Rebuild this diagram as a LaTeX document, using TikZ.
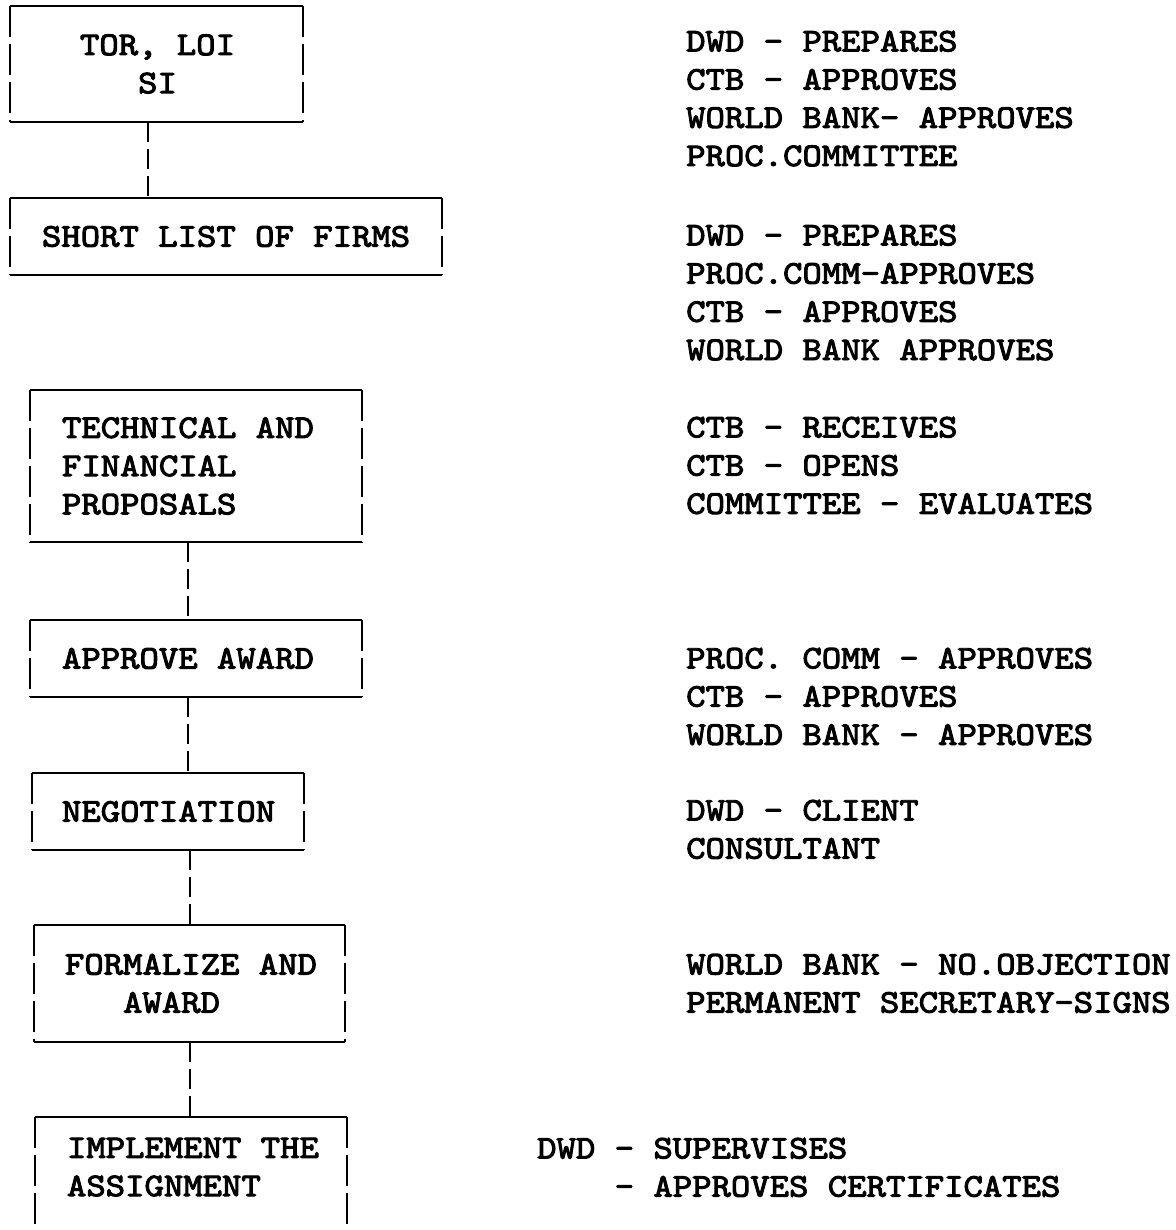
\documentclass[tikz,border=0pt]{standalone}
\usepackage{fontspec}
\newfontfamily\twfont{lmmono10-regular}[Extension=.otf, FakeStretch=1.1186, FakeBold=3]
\newcommand\lnstrut{\rule[-9pt]{0pt}{38.2pt}}
\newcommand\col[1]{\hspace*{#1pt}}
\tikzset{
  every node/.style={font=\twfont\fontsize{33}{38.2}\selectfont},
  box/.style={inner xsep=0pt, inner ysep=0pt, align=flush left},
  hside/.style={line width=2.4pt},
  vside/.style={line width=2.4pt, dash pattern=on 31pt off 7pt},
  conn/.style={line width=2.6pt, dash pattern=on 20pt off 7pt},
  txt/.style={anchor=north west, inner sep=0pt, align=left},
}
\newcommand\frameit[1]{%
  \draw[hside] (#1.north west) -- (#1.north east) (#1.south west) -- (#1.south east);
  \draw[vside] (#1.north west) -- (#1.south west) (#1.north east) -- (#1.south east);}
\begin{document}
\begin{tikzpicture}[x=1pt,y=-1pt]
\useasboundingbox (0,0) rectangle (1175,1230);
\clip (0,0) rectangle (1175,1230);
\fill[white] (0,0) rectangle (1175,1230);

% boxes
\node[box, minimum width=293pt, minimum height=116pt, text width=293pt] (b1) at (156.5,64)
  {\noindent\col{70}TOR, LOI\lnstrut\\\col{128.1}SI\lnstrut};
\node[box, minimum width=432pt, minimum height=77pt, text width=432pt] (b2) at (226,236.5)
  {\noindent\col{32}SHORT LIST OF FIRMS\lnstrut};
\node[box, minimum width=332pt, minimum height=152pt, text width=332pt] (b3) at (196,466)
  {\noindent\col{32}TECHNICAL AND\lnstrut\\\col{32}FINANCIAL\lnstrut\\\col{32}PROPOSALS\lnstrut};
\node[box, minimum width=332pt, minimum height=77pt, text width=332pt] (b4) at (196,658.5)
  {\noindent\col{32}APPROVE AWARD\lnstrut};
\node[box, minimum width=272pt, minimum height=77pt, text width=272pt] (b5) at (168,811.5)
  {\noindent\col{30}NEGOTIATION\lnstrut};
\node[box, minimum width=311pt, minimum height=117pt, text width=311pt] (b6) at (189.5,983.5)
  {\noindent\col{31}FORMALIZE AND\lnstrut\\\col{89.1}AWARD\lnstrut};
\node[box, minimum width=312pt, minimum height=138pt, text width=312pt] (b7) at (191,1186)
  {\noindent\col{32}IMPLEMENT THE\lnstrut\\\col{32}ASSIGNMENT\lnstrut\\\lnstrut};

\frameit{b1}\frameit{b2}\frameit{b3}\frameit{b4}\frameit{b5}\frameit{b6}\frameit{b7}

% connectors
\draw[conn] (b1.south -| 148,0) -- (b2.north -| 148,0);
\draw[conn] (b3.south -| 188,0) -- (b4.north -| 188,0);
\draw[conn] (b4.south -| 188,0) -- (b5.north -| 188,0);
\draw[conn] (b5.south -| 190,0) -- (b6.north -| 190,0);
\draw[conn] (b6.south -| 190,0) -- (b7.north -| 190,0);

% right-hand texts
\node[txt] (t1) at (686,22) {DWD - PREPARES\lnstrut\\CTB - APPROVES\lnstrut\\WORLD BANK- APPROVES\lnstrut\\PROC.COMMITTEE\lnstrut};
\node[txt] (t2) at (686,216) {DWD - PREPARES\lnstrut\\PROC.COMM-APPROVES\lnstrut\\CTB - APPROVES\lnstrut\\WORLD BANK APPROVES\lnstrut};
\node[txt] (t3) at (686,408) {CTB - RECEIVES\lnstrut\\CTB - OPENS\lnstrut\\COMMITTEE - EVALUATES\lnstrut};
\node[txt] (t4) at (686,639) {PROC. COMM - APPROVES\lnstrut\\CTB - APPROVES\lnstrut\\WORLD BANK - APPROVES\lnstrut};
\node[txt] (t5) at (686,791) {DWD - CLIENT\lnstrut\\CONSULTANT\lnstrut};
\node[txt] (t6) at (686,945) {WORLD BANK - NO.OBJECTION\lnstrut\\PERMANENT SECRETARY-SIGNS\lnstrut};
\node[txt] (t7) at (537,1129) {DWD - SUPERVISES\lnstrut\\\col{77.5}- APPROVES CERTIFICATES\lnstrut};
\end{tikzpicture}
\end{document}
